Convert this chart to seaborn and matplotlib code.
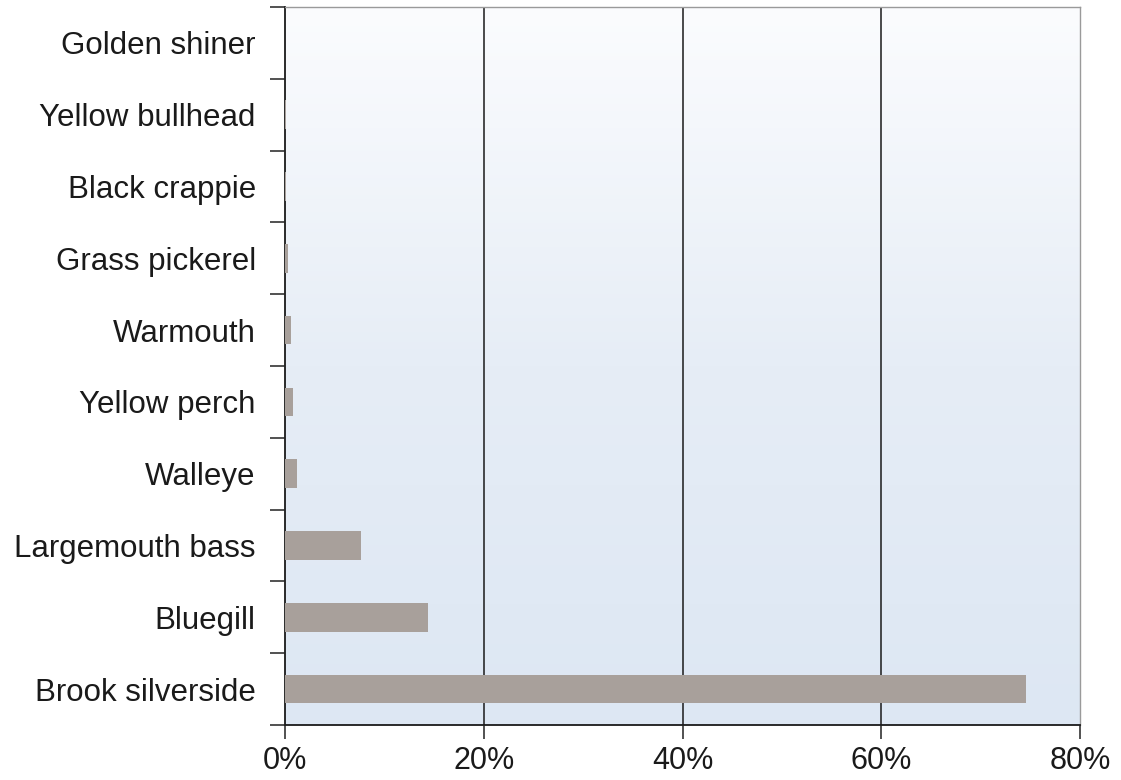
import numpy as np
import pandas as pd
import matplotlib
matplotlib.use("Agg")
import matplotlib.pyplot as plt
import seaborn as sns
from matplotlib.ticker import FixedLocator, FuncFormatter
from matplotlib.colors import LinearSegmentedColormap

species = ["Golden shiner", "Yellow bullhead", "Black crappie", "Grass pickerel",
           "Warmouth", "Yellow perch", "Walleye", "Largemouth bass", "Bluegill",
           "Brook silverside"]
percent = [0.05, 0.1, 0.1, 0.3, 0.6, 0.8, 1.2, 7.6, 14.4, 74.6]
x_ticks = [0, 20, 40, 60, 80]

df = pd.DataFrame({"species": species, "percent": percent})

sns.set_style("white")
plt.rcParams['font.family'] = ['Liberation Sans', 'DejaVu Sans']

fig = plt.figure(figsize=(11.21, 7.8), dpi=100)
ax = fig.add_axes([285/1121, 1 - 725/780, (1080-285)/1121, (725-7)/780])

# light blue gradient background
grad = np.linspace(0, 1, 256).reshape(-1, 1)
cmap = LinearSegmentedColormap.from_list("bg", ["#dde7f3", "#e6edf6", "#fbfcfe"])
ax.imshow(grad, aspect="auto", cmap=cmap, extent=[0, 1, 0, 1],
          transform=ax.transAxes, zorder=0, origin="lower")

sns.barplot(data=df, x="percent", y="species", order=species, orient="h",
            color="#a8a09b", width=0.4, saturation=1, ax=ax, zorder=3,
            edgecolor="none")

ax.set_xlim(0, 80)
ax.set_ylim(len(species) - 0.5, -0.5)
ax.set_xlabel("")
ax.set_ylabel("")

ax.xaxis.set_major_locator(FixedLocator(x_ticks))
ax.xaxis.set_major_formatter(FuncFormatter(lambda v, p: f"{int(v)}%"))
for v in x_ticks[1:-1]:
    ax.axvline(v, color="#1a1a1a", lw=1.1, zorder=2)

ax.set_yticks(range(len(species)))
ax.set_yticklabels(species)
ax.set_yticks(np.arange(-0.5, len(species), 1), minor=True)
ax.tick_params(axis="y", which="major", length=0, pad=21, labelsize=22.5,
               colors="#1a1a1a")
ax.tick_params(axis="y", which="minor", length=11, width=1.1, color="#222222",
               direction="out", left=True)
ax.tick_params(axis="x", which="major", length=10, width=1.1, color="#222222",
               direction="out", bottom=True, labelsize=22, pad=5,
               labelcolor="#1a1a1a")

for s in ["left", "bottom"]:
    ax.spines[s].set_color("#1a1a1a")
    ax.spines[s].set_linewidth(1.3)
for s in ["top", "right"]:
    ax.spines[s].set_color("#9a9a9a")
    ax.spines[s].set_linewidth(1.0)
ax.set_axisbelow(False)

fig.savefig("out.png", dpi=100)
